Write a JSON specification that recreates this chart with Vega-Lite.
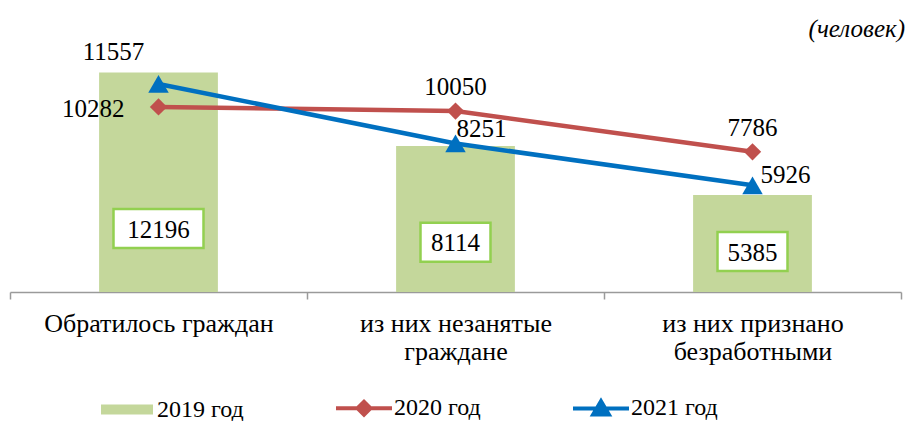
{
  "$schema": "https://vega.github.io/schema/vega-lite/v6.json",
  "width": 891,
  "height": 252,
  "autosize": {"type": "none"},
  "padding": {"left": 10, "top": 40, "right": 8, "bottom": 129},
  "config": {"view": {"stroke": null}, "font": "Liberation Serif"},
  "title": {"text": "(человек)", "anchor": "end", "frame": "group", "font": "Liberation Serif", "fontStyle": "italic", "fontWeight": "normal", "fontSize": 25, "color": "black", "baseline": "alphabetic", "offset": 4, "dx": 4, "dy": 26},
  "data": {"values": [
    {"cat": "Обратилось граждан", "year": "2019 год", "value": 12196},
    {"cat": "из них незанятые граждане", "year": "2019 год", "value": 8114},
    {"cat": "из них признано безработными", "year": "2019 год", "value": 5385},
    {"cat": "Обратилось граждан", "year": "2020 год", "value": 10282},
    {"cat": "из них незанятые граждане", "year": "2020 год", "value": 10050},
    {"cat": "из них признано безработными", "year": "2020 год", "value": 7786},
    {"cat": "Обратилось граждан", "year": "2021 год", "value": 11557},
    {"cat": "из них незанятые граждане", "year": "2021 год", "value": 8251},
    {"cat": "из них признано безработными", "year": "2021 год", "value": 5926}
  ]},
  "encoding": {
    "x": {
      "field": "cat", "type": "nominal", "sort": null,
      "scale": {"paddingInner": 0, "paddingOuter": 0},
      "axis": {
        "title": null, "labelAngle": 0, "labelFont": "Liberation Serif", "labelFontSize": 26, "labelColor": "black",
        "labelLineHeight": 28, "labelPadding": 11, "labelLimit": 300,
        "domainColor": "#9a9a9a", "domainWidth": 1.5, "tickColor": "#9a9a9a", "tickWidth": 1.5, "tickSize": 7, "tickBand": "extent",
        "labelExpr": "datum.label == 'из них незанятые граждане' ? ['из них незанятые', 'граждане'] : datum.label == 'из них признано безработными' ? ['из них признано', 'безработными'] : datum.label"
      }
    }
  },
  "layer": [
    {
      "transform": [{"filter": "datum.year == '2019 год'"}],
      "mark": {"type": "bar", "width": {"band": 0.4}},
      "encoding": {
        "y": {"field": "value", "type": "quantitative", "scale": {"domain": [0, 14000], "nice": false}, "axis": null},
        "color": {
          "field": "year", "type": "nominal",
          "scale": {"domain": ["2019 год", "2020 год", "2021 год"], "range": ["#C4D79B", "#C0504D", "#0070C0"]},
          "legend": {
            "orient": "none", "legendX": 87, "legendY": 338, "direction": "horizontal", "title": null,
            "labelFont": "Liberation Serif", "labelFontSize": 24, "labelColor": "black", "labelLimit": 200,
            "symbolSize": 3136, "symbolStrokeWidth": 4, "columnPadding": 84, "labelOffset": 0,
            "encode": {
              "symbols": {"update": {
                "shape": {"signal": "datum.value == '2019 год' ? 'M-0.857,-0.107H0.857V0.107H-0.857Z' : datum.value == '2020 год' ? 'M-1,0H1M-0.23,0L0,-0.23L0.23,0L0,0.23Z' : 'M-1,0H1M0,-0.26L0.28,0.22L-0.28,0.22Z'"},
                "fill": {"signal": "scale('color', datum.value)"},
                "stroke": {"signal": "scale('color', datum.value)"},
                "strokeWidth": {"value": 4},
                "opacity": {"value": 1}
              }}
            }
          }
        }
      }
    },
    {
      "transform": [{"filter": "datum.year != '2019 год'"}],
      "mark": {"type": "line", "strokeWidth": 4.5},
      "encoding": {
        "y": {"field": "value", "type": "quantitative", "scale": {"domain": [0, 14000], "nice": false}, "axis": null},
        "color": {"field": "year", "type": "nominal"}
      }
    },
    {
      "transform": [{"filter": "datum.year == '2020 год'"}],
      "mark": {"type": "point", "filled": true, "opacity": 1, "shape": "diamond", "size": 300},
      "encoding": {
        "y": {"field": "value", "type": "quantitative", "scale": {"domain": [0, 14000], "nice": false}, "axis": null},
        "color": {"field": "year", "type": "nominal"}
      }
    },
    {
      "transform": [{"filter": "datum.year == '2021 год'"}],
      "mark": {"type": "point", "filled": true, "opacity": 1, "shape": "triangle-up", "size": 420},
      "encoding": {
        "y": {"field": "value", "type": "quantitative", "scale": {"domain": [0, 14000], "nice": false}, "axis": null},
        "color": {"field": "year", "type": "nominal"}
      }
    },
    {
      "transform": [{"filter": "datum.year == '2020 год' && datum.value != 10282"}],
      "mark": {"type": "text", "font": "Liberation Serif", "fontSize": 25, "color": "black", "align": "center", "baseline": "middle", "dy": -24},
      "encoding": {
        "y": {"field": "value", "type": "quantitative", "scale": {"domain": [0, 14000], "nice": false}, "axis": null},
        "text": {"field": "value", "type": "quantitative", "format": "d"}
      }
    },
    {
      "transform": [{"filter": "datum.year == '2020 год' && datum.value == 10282"}],
      "mark": {"type": "text", "font": "Liberation Serif", "fontSize": 25, "color": "black", "align": "right", "baseline": "middle", "dx": -34, "dy": 2},
      "encoding": {
        "y": {"field": "value", "type": "quantitative", "scale": {"domain": [0, 14000], "nice": false}, "axis": null},
        "text": {"field": "value", "type": "quantitative", "format": "d"}
      }
    },
    {
      "transform": [{"filter": "datum.year == '2021 год' && datum.value == 11557"}],
      "mark": {"type": "text", "font": "Liberation Serif", "fontSize": 25, "color": "black", "align": "center", "baseline": "middle", "dx": -45, "dy": -32},
      "encoding": {
        "y": {"field": "value", "type": "quantitative", "scale": {"domain": [0, 14000], "nice": false}, "axis": null},
        "text": {"field": "value", "type": "quantitative", "format": "d"}
      }
    },
    {
      "transform": [{"filter": "datum.year == '2021 год' && datum.value == 8251"}],
      "mark": {"type": "text", "font": "Liberation Serif", "fontSize": 25, "color": "black", "align": "left", "baseline": "middle", "dx": 1, "dy": -14},
      "encoding": {
        "y": {"field": "value", "type": "quantitative", "scale": {"domain": [0, 14000], "nice": false}, "axis": null},
        "text": {"field": "value", "type": "quantitative", "format": "d"}
      }
    },
    {
      "transform": [{"filter": "datum.year == '2021 год' && datum.value == 5926"}],
      "mark": {"type": "text", "font": "Liberation Serif", "fontSize": 25, "color": "black", "align": "left", "baseline": "middle", "dx": 8, "dy": -10},
      "encoding": {
        "y": {"field": "value", "type": "quantitative", "scale": {"domain": [0, 14000], "nice": false}, "axis": null},
        "text": {"field": "value", "type": "quantitative", "format": "d"}
      }
    },
    {
      "transform": [{"filter": "datum.year == '2019 год'"}],
      "encoding": {
        "y": {"field": "value", "type": "quantitative", "scale": {"domain": [-6608, 68017], "nice": false, "zero": false}, "axis": null}
      },
      "layer": [
        {
          "transform": [{"filter": "datum.value >= 10000"}],
          "mark": {"type": "point", "filled": true, "fill": "white", "opacity": 1, "stroke": "#92D050", "strokeWidth": 2.5, "size": 8100, "shape": "M-1,-0.433H1V0.433H-1Z"}
        },
        {
          "transform": [{"filter": "datum.value < 10000"}],
          "mark": {"type": "point", "filled": true, "fill": "white", "opacity": 1, "stroke": "#92D050", "strokeWidth": 2.5, "size": 4900, "shape": "M-1,-0.557H1V0.557H-1Z"}
        },
        {
          "mark": {"type": "text", "font": "Liberation Serif", "fontSize": 25, "color": "black", "align": "center", "baseline": "middle", "dy": 1},
          "encoding": {"text": {"field": "value", "type": "quantitative", "format": "d"}}
        }
      ]
    }
  ],
  "resolve": {"scale": {"y": "independent"}}
}
